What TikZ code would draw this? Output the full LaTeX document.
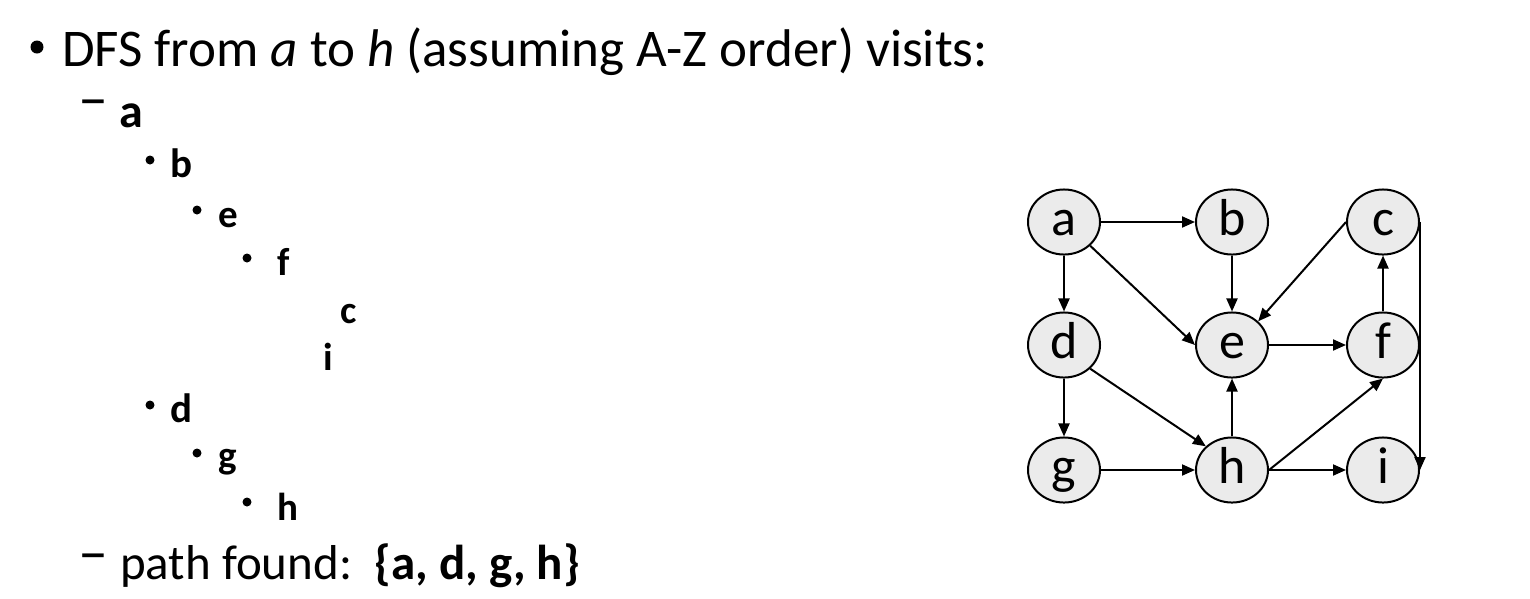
\documentclass[tikz,border=0pt]{standalone}
\usepackage{fontspec}
\setmainfont{Carlito}
\usetikzlibrary{arrows.meta,shapes.geometric}
\definecolor{vfill}{HTML}{EBEBEB}
\begin{document}
\begin{tikzpicture}[x=1pt,y=-1pt,
  vtx/.style={ellipse, draw, line width=2pt, fill=vfill, minimum width=72pt, minimum height=62pt, inner sep=0pt, text height=36pt, text depth=10pt, font=\fontsize{52}{52}\selectfont},
  edge/.style={line width=2pt, -{Triangle[length=13pt,width=11pt]}},
  lvlone/.style={anchor=base west, inner sep=0pt, font=\fontsize{53}{60}\selectfont},
  lvltwo/.style={anchor=base west, inner sep=0pt, font=\fontsize{48}{52}\selectfont\bfseries},
  lvlthree/.style={anchor=base west, inner sep=0pt, font=\fontsize{41}{48}\selectfont\bfseries},
  lvlfour/.style={anchor=base west, inner sep=0pt, font=\fontsize{39}{46}\selectfont\bfseries},
  subplain/.style={anchor=base west, inner sep=0pt, font=\fontsize{49}{52}\selectfont},
  bigdot/.style={circle, fill=black, inner sep=0pt, minimum size=13pt},
  smalldot/.style={circle, fill=black, inner sep=0pt, minimum size=9pt},
  dashmark/.style={anchor=base west, inner sep=0pt, text height=16pt, text depth=0pt, font=\fontsize{40}{40}\selectfont},
]
\useasboundingbox (0,0) rectangle (1530,598);
% text
\node[bigdot] (b0) at (37,47) {};
\node[lvlone] (t0) at (62,66) {DFS from \textit{a} to \textit{h} (assuming A-Z order) visits:};
\node[dashmark] (m1) at (78,118) {\scalebox{1.5}{–}};
\node[lvltwo] (ta) at (119,127) {a};
\node[smalldot] (b1) at (150,160) {};
\node[lvlthree] (tb) at (170,177) {b};
\node[smalldot] (b2) at (197,210) {};
\node[lvlfour] (te) at (218,227) {e};
\node[smalldot] (b3) at (247,258) {};
\node[lvlfour] (tf) at (277,275) {f};
\node[lvlfour] (tc) at (340,323) {c};
\node[lvlfour] (ti) at (323,370) {i};
\node[smalldot] (b4) at (150,405) {};
\node[lvlthree] (td) at (170,422) {d};
\node[smalldot] (b5) at (197,453) {};
\node[lvlfour] (tg) at (218,468) {g};
\node[smalldot] (b6) at (247,502) {};
\node[lvlfour] (th) at (277,520) {h};
\node[dashmark] (m2) at (78,572) {\scalebox{1.5}{–}};
\node[subplain] (tp) at (120,579) {path found:\ \ \textbf{\{a, d, g, h\}}};
% graph
\node[vtx] (a) at (1064,222) {a};
\node[vtx] (b) at (1232,222) {b};
\node[vtx] (c) at (1383,222) {c};
\node[vtx] (d) at (1064,345) {d};
\node[vtx] (e) at (1232,345) {e};
\node[vtx] (f) at (1383,345) {f};
\node[vtx] (g) at (1064,470) {g};
\node[vtx] (h) at (1232,470) {h};
\node[vtx] (i) at (1383,470) {i};
\draw[edge] (a.east) -- (b.west);
\draw[edge] (a.south) -- (d.north);
\draw[edge] (a.south east) -- (e.west);
\draw[edge] (b.south) -- (e.north);
\draw[edge] (c.west) -- (e.north east);
\draw[edge] (e.east) -- (f.west);
\draw[edge] (f.north) -- (c.south);
\draw[edge] (d.south) -- (g.north);
\draw[edge] (d.south east) -- (h.north west);
\draw[edge] (g.east) -- (h.west);
\draw[edge] (h.north) -- (e.south);
\draw[edge] (h.east) -- (f.south);
\draw[edge] (h.east) -- (i.west);
\draw[edge] (c.east) -- (i.east);
\end{tikzpicture}
\end{document}
